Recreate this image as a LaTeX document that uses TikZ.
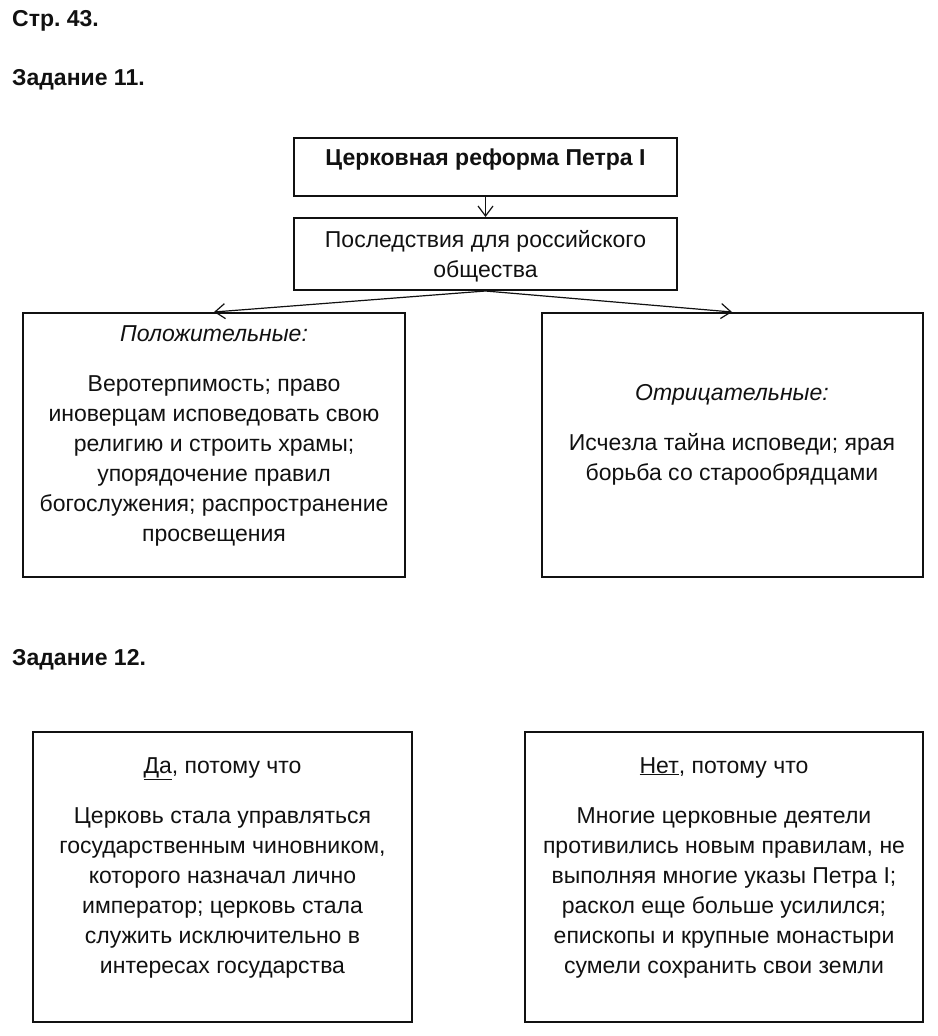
\documentclass[tikz,border=0pt]{standalone}
\usepackage{fontspec}
\setmainfont{Liberation Sans}
\usepackage{tikz}
\usetikzlibrary{arrows.meta}
\definecolor{cInk}{HTML}{111111}
\newcommand{\bodysize}{\fontsize{23}{30}\selectfont\frenchspacing}
\tikzset{
  panel/.style = {draw=cInk, line width=2pt, inner sep=0pt},
  txt/.style   = {text=cInk, font=\bodysize, align=center, inner sep=0pt, anchor=base},
  head/.style  = {txt, font=\bodysize\bfseries, anchor=base west},
  link/.style  = {draw=cInk, line width=1.2pt, -{Straight Barb[length=10pt, width=15pt]}},
}

\begin{document}
\begin{tikzpicture}[x=1pt, y=-1pt]
  \useasboundingbox (0,0) rectangle (937,1036);
  % page headings
  \node[head] (page) at (12,27) {Стр. 43.};
  \node[head] (task11) at (12,85) {Задание 11.};
  \node[head] (task12) at (12,665) {Задание 12.};
  % task 11: the scheme (text nodes sit on their last baseline)
  \node[panel, minimum width=383pt, minimum height=58pt] (reform) at (485.5,167) {};
  \node[txt, font=\bodysize\bfseries] (reformT) at (485.5,165) {Церковная реформа Петра I};
  \node[panel, minimum width=383pt, minimum height=72pt] (effects) at (485.5,254) {};
  \node[txt] (effectsT) at (485.5,277) {Последствия для российского\\ общества};
  \node[panel, minimum width=382pt, minimum height=264pt] (plus) at (214,445) {};
  \node[txt, font=\bodysize\itshape] (plusH) at (214,341) {Положительные:};
  \node[txt] (plusT) at (214,541)
    {Веротерпимость; право\\ иноверцам исповедовать свою\\ религию и строить храмы;\\
     упорядочение правил\\ богослужения; распространение\\ просвещения};
  \node[panel, minimum width=381pt, minimum height=264pt] (minus) at (732,445) {};
  \node[txt, font=\bodysize\itshape] (minusH) at (732,400) {Отрицательные:};
  \node[txt] (minusT) at (732,480)
    {Исчезла тайна исповеди; ярая\\ борьба со старообрядцами};
  \draw[link] (reform.south) -- (effects.north);
  \draw[link] (effects.south) -- (plus.north);
  \draw[link] (effects.south) -- (minus.north);
  % task 12: two answers
  \node[panel, minimum width=379pt, minimum height=290pt] (yes) at (222.5,877) {};
  \node[txt] (yesH) at (222.5,773) {\underline{Да}, потому что};
  \node[txt] (yesT) at (222.5,973)
    {Церковь стала управляться\\ государственным чиновником,\\ которого назначал лично\\
     император; церковь стала\\ служить исключительно в\\ интересах государства};
  \node[panel, minimum width=398pt, minimum height=290pt] (no) at (724,877) {};
  \node[txt] (noH) at (724,773) {\underline{Нет}, потому что};
  \node[txt] (noT) at (724,973)
    {Многие церковные деятели\\ противились новым правилам, не\\ выполняя многие указы Петра I;\\
     раскол еще больше усилился;\\ епископы и крупные монастыри\\ сумели сохранить свои земли};
\end{tikzpicture}
\end{document}
